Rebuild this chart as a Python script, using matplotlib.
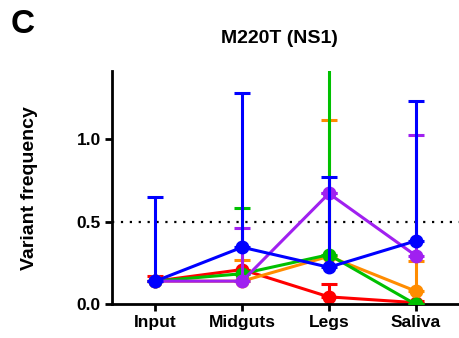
import matplotlib
matplotlib.use("Agg")
import matplotlib.pyplot as plt
import numpy as np

plt.rcParams['font.family'] = ['Liberation Sans', 'DejaVu Sans']
plt.rcParams['font.weight'] = 'bold'

tissues = ["Input", "Midguts", "Legs", "Saliva"]

# Mean variant frequency and upper error (top of bar) per mosquito group
red_mean = [0.14, 0.21, 0.045, 0.01]
red_top = [0.17, 0.21, 0.12, 0.02]
orange_mean = [0.14, 0.14, 0.29, 0.08]
orange_top = [0.14, 0.27, 1.115, 0.264]
green_mean = [0.14, 0.185, 0.30, 0.0]
green_top = [0.14, 0.58, 1.6, 0.0]
purple_mean = [0.14, 0.14, 0.67, 0.295]
purple_top = [0.14, 0.463, 0.67, 1.026]
blue_mean = [0.14, 0.345, 0.224, 0.383]
blue_top = [0.65, 1.276, 0.772, 1.23]

series = [
    ("#FF0000", red_mean, red_top),
    ("#FF8C00", orange_mean, orange_top),
    ("#00C000", green_mean, green_top),
    ("#A020F0", purple_mean, purple_top),
    ("#0000FF", blue_mean, blue_top),
]

fig = plt.figure(figsize=(4.59, 3.38), dpi=100)
ax = fig.add_axes([0.244, 0.0997, 0.756, 0.69])

x = np.arange(len(tissues))
ax.axhline(0.5, color="black", linestyle=(0, (1, 3)), linewidth=1.6, zorder=1)

for i, (color, mean, top) in enumerate(series):
    mean = np.array(mean)
    top = np.array(top)
    upper = top - mean
    ax.errorbar(x, mean, yerr=[np.zeros_like(upper), upper], color=color,
                linewidth=2.2, marker="o", markersize=9, capsize=6,
                capthick=2.2, elinewidth=2.2, zorder=2 + i, clip_on=False)

ax.set_xlim(-0.5, 3.5)
ax.set_ylim(0, 1.41)
ax.set_xticks(x)
ax.set_xticklabels(tissues, fontsize=12.5, fontweight="bold")
ax.set_yticks([0.0, 0.5, 1.0])
ax.set_yticklabels(["0.0", "0.5", "1.0"], fontsize=12.5, fontweight="bold")
ax.set_ylabel("Variant frequency", fontsize=14, fontweight="bold")
ax.yaxis.set_label_coords(-0.213, 0.5)

for side in ("top", "right"):
    ax.spines[side].set_visible(False)
for side in ("left", "bottom"):
    ax.spines[side].set_linewidth(2)
ax.tick_params(direction="out", width=2, length=5, pad=3)

# Clip error bars that overshoot the axis top
for artist in ax.lines + ax.collections:
    artist.set_clip_on(True)

fig.text(0.608, 0.885, "M220T (NS1)", ha="center", va="center",
         fontsize=14, fontweight="bold")
fig.text(0.05, 0.928, "C", ha="center", va="center", fontsize=24, fontweight="bold")

fig.savefig("out.png", dpi=100)
